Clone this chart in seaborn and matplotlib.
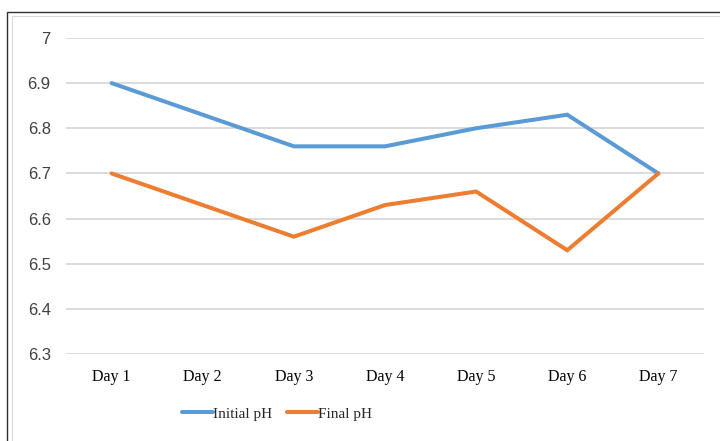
import numpy as np
import pandas as pd
import matplotlib
matplotlib.use('Agg')
import matplotlib.pyplot as plt
import seaborn as sns
from matplotlib.patches import Rectangle

# ============================================================
# DATA
# ============================================================

days = ['Day 1', 'Day 2', 'Day 3', 'Day 4', 'Day 5', 'Day 6', 'Day 7']
initial_ph = [6.90, 6.83, 6.76, 6.76, 6.80, 6.83, 6.70]
final_ph = [6.70, 6.63, 6.56, 6.63, 6.66, 6.53, 6.70]
y_ticks = [6.3, 6.4, 6.5, 6.6, 6.7, 6.8, 6.9, 7.0]
y_tick_labels = ['6.3', '6.4', '6.5', '6.6', '6.7', '6.8', '6.9', '7']

df = pd.DataFrame({'Day': days, 'Initial pH': initial_ph, 'Final pH': final_ph})
long_df = df.melt(id_vars='Day', var_name='Series', value_name='pH')

# ============================================================
# PLOT
# ============================================================

sns.set_style('white')
plt.rcParams['font.family'] = ['Liberation Serif', 'DejaVu Serif']

fig = plt.figure(figsize=(7.2, 4.41), dpi=100)
ax = fig.add_axes([0.0917, 0.197, 0.886, 0.717])

palette = {'Initial pH': '#5B9BD5', 'Final pH': '#ED7D31'}
sns.lineplot(data=long_df, x='Day', y='pH', hue='Series', palette=palette,
             linewidth=2.9, sort=False, ax=ax, legend=False)

ax.set_xlim(-0.5, 6.5)
ax.set_ylim(6.3, 7.0)
ax.set_yticks(y_ticks)
ax.set_yticklabels(y_tick_labels, fontfamily='Liberation Sans', fontsize=12,
                   color='#404040')
ax.set_xticks(range(len(days)))
ax.set_xticklabels(days, fontsize=11.5, color='black')
ax.tick_params(axis='y', length=0, pad=11)
ax.tick_params(axis='x', length=0, pad=11)
ax.set_xlabel('')
ax.set_ylabel('')
ax.grid(axis='y', color='#D9D9D9', linewidth=1.3)
ax.grid(axis='x', visible=False)
for s in ax.spines.values():
    s.set_visible(False)
for line in ax.get_lines():
    line.set_clip_on(False)
    line.set_solid_capstyle('round')
    line.set_solid_joinstyle('miter')

# legend (sits left of centre, as in the original)
handles = [plt.Line2D([], [], color=palette[k], linewidth=2.9) for k in ['Initial pH', 'Final pH']]
fig.legend(handles, ['Initial pH', 'Final pH'], loc='center', bbox_to_anchor=(0.385, 0.062),
           ncol=2, frameon=False, fontsize=11, handlelength=2.0, handletextpad=0.0,
           columnspacing=1.0)

# figure border (outer dark, inner light)
fig.patches.append(Rectangle((7 / 720, -0.1), 1.2, 1 - 12 / 441 + 0.1,
                             transform=fig.transFigure, fill=False,
                             edgecolor='#303030', linewidth=1.0))
fig.patches.append(Rectangle((12 / 720, -0.1), 1.2, 1 - 16 / 441 + 0.1,
                             transform=fig.transFigure, fill=False,
                             edgecolor='#D9D9D9', linewidth=0.8))

plt.savefig('out.png', dpi=100)
plt.close()
